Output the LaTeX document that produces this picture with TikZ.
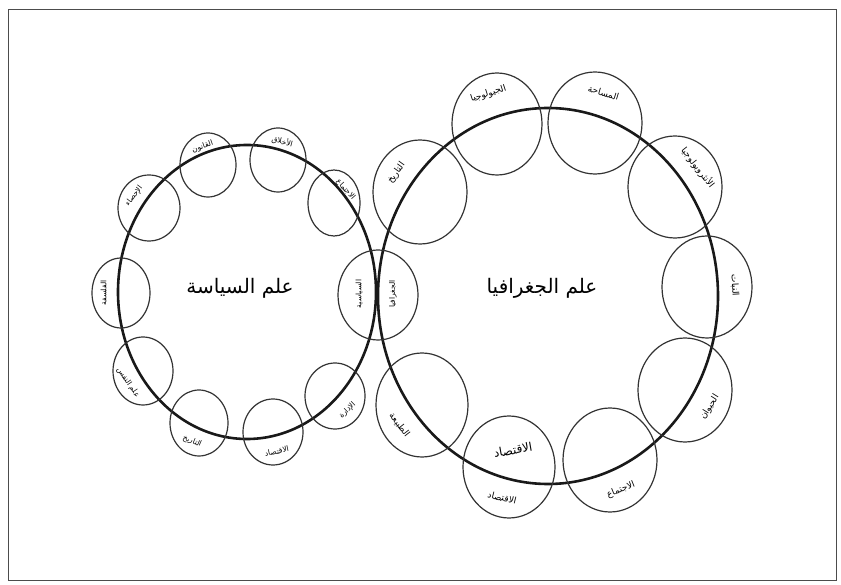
\documentclass[tikz,border=0pt]{standalone}
\usepackage{fontspec}
\usepackage{tikz}
\newfontfamily\arabicfont[Script=Arabic]{DejaVu Sans}
\TeXXeTstate=1
\usetikzlibrary{positioning,calc}

\begin{document}
\begin{tikzpicture}[
          x=1pt, y=1pt,
          every node/.style={inner sep=0pt},
          bigring/.style={draw=black!90, line width=2.6pt},
          smallring/.style={draw=black!80, line width=1.2pt},
          title/.style={font=\arabicfont\fontsize{20}{24}\selectfont},
          sublbl/.style={font=\arabicfont\fontsize{7.5}{9}\selectfont},
          geolbl/.style={font=\arabicfont\fontsize{9}{11}\selectfont}
      ]
        \useasboundingbox (0,0) rectangle (841,584);
        \draw[black!70, line width=1pt] (8,4) rectangle (836,574);
        % the two main fields
        \draw[bigring] (247,292) ellipse [x radius=129, y radius=147];
        \draw[bigring] (548,288) ellipse [x radius=170, y radius=188];
        \node[title] (siyasa) at (240,296) {\beginR علم السياسة\endR};
        \node[title] (jughrafia) at (542,296) {\beginR علم الجغرافيا\endR};
        % fields round political science
        \foreach \nm/\x/\y/\rx/\ry/\a/\txt in {
            qanun/208/419/28/32/109/القانون,
            akhlaq/278/424/28/32/75/الأخلاق,
            ijtima/334/381/26/33/42/الاجتماع,
            ihsa/149/376/31/33/143/الإحصاء,
            falsafa/121/291/29/35/180/الفلسفة,
            nafs/143/213/30/34/214/علم النفس,
            tarikh/199/161/29/33/247/التاريخ,
            iqtisad/273/152/30/33/282/الاقتصاد,
            idara/335/188/30/33/314/الإدارة}{
          \draw[smallring] (\x,\y) ellipse [x radius=\rx, y radius=\ry];
          \pgfmathsetmacro{\rot}{ifthenelse(\a<181, \a-90, \a+90)}
          \node[sublbl, rotate=\rot] (\nm) at ($(\x,\y)+(\a:{0.6*\rx} and {0.6*\ry})$) {\beginR\txt\endR};
        }
        % fields round geography
        \foreach \nm/\x/\y/\rx/\ry/\a/\txt in {
            gtarikh/420/392/47/52/144/التاريخ,
            geolojia/497/460/45/51/108/الجيولوجيا,
            masaha/595/461/47/51/73/المساحة,
            anthro/675/397/47/51/38/الأنثروبولوجيا,
            nabat/707/297/45/51/3/النبات,
            hayawan/685/194/47/52/328/الحيوان,
            gijtima/610/124/47/52/292/الاجتماع,
            giqtisad/509/117/46/51/256/الاقتصاد,
            tabia/422/179/46/52/218/الطبيعة}{
          \draw[smallring] (\x,\y) ellipse [x radius=\rx, y radius=\ry];
          \pgfmathsetmacro{\rot}{ifthenelse(\a<181, \a-90, \a+90)}
          \node[geolbl, rotate=\rot] (\nm) at ($(\x,\y)+(\a:{0.62*\rx} and {0.62*\ry})$) {\beginR\txt\endR};
        }
        \node[geolbl, font=\arabicfont\fontsize{12}{14}\selectfont, rotate=10] (iqtisadin) at (513,134) {\beginR الاقتصاد\endR};
        % political geography, shared by both
        \draw[smallring] (378,289) ellipse [x radius=40, y radius=45];
        \node[sublbl, rotate=90] (siyasiya) at (359,290) {\beginR السياسية\endR};
        \node[sublbl, rotate=90] (jughsiyasi) at (393,290) {\beginR الجغرافيا\endR};
      \end{tikzpicture}
\end{document}
